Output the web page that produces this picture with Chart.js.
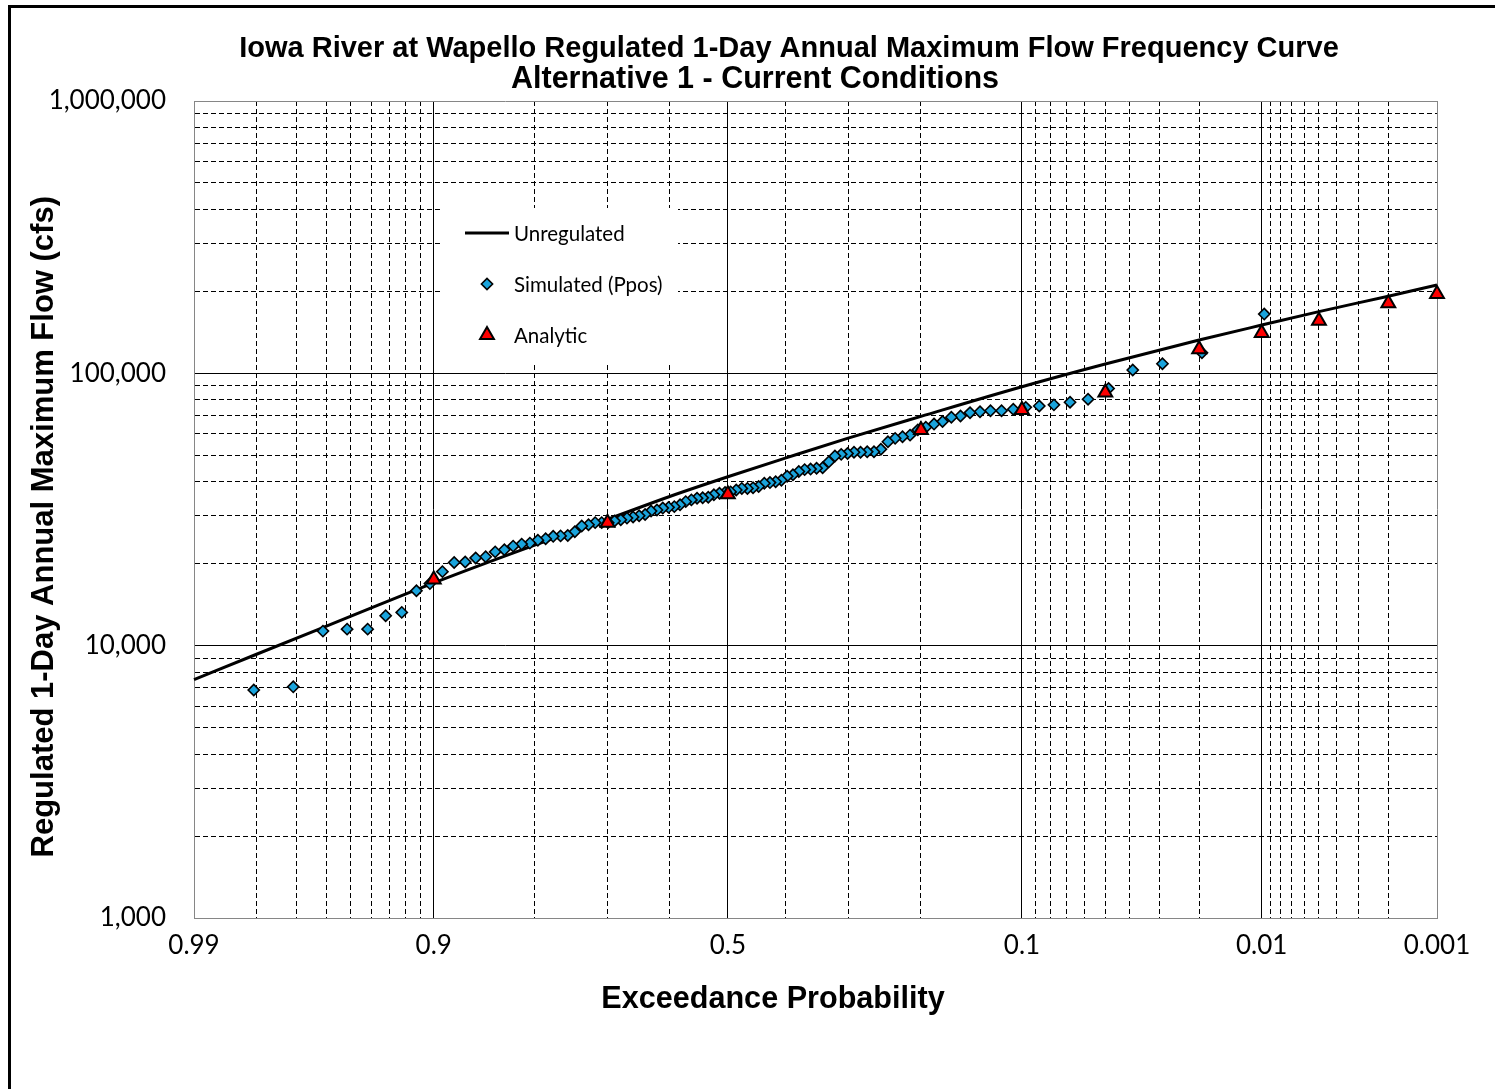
<!DOCTYPE html>
<html>
<head>
<meta charset="utf-8">
<title>Iowa River at Wapello Regulated 1-Day Annual Maximum Flow Frequency Curve</title>
<script src="https://cdn.jsdelivr.net/npm/chart.js@4.4.1/dist/chart.umd.min.js"></script>
<style>
  html, body { margin: 0; padding: 0; background: #ffffff; }
  #chart-box { position: relative; width: 1495px; height: 1089px; }
  #chart { display: block; }
</style>
</head>
<body>
<div id="chart-box"><canvas id="chart" width="1495" height="1089"></canvas></div>
<script>
// ---------------- text ----------------
const titleLine1 = 'Iowa River at Wapello Regulated 1-Day Annual Maximum Flow Frequency Curve';
const titleLine2 = 'Alternative 1 - Current Conditions';
const yAxisTitle = 'Regulated 1-Day Annual Maximum Flow (cfs)';
const xAxisTitle = 'Exceedance Probability';
const seriesNames = ['Unregulated', 'Simulated (Ppos)', 'Analytic'];

// ---------------- axes ----------------
const xLabelProbs = [0.99, 0.9, 0.5, 0.1, 0.01, 0.001];
const xSolidProbs = [0.9, 0.5, 0.1, 0.01];
const xGridProbs = [0.99, 0.98, 0.97, 0.96, 0.95, 0.94, 0.93, 0.92, 0.91, 0.9,
  0.8, 0.7, 0.6, 0.5, 0.4, 0.3, 0.2, 0.1,
  0.09, 0.08, 0.07, 0.06, 0.05, 0.04, 0.03, 0.02, 0.01,
  0.009, 0.008, 0.007, 0.006, 0.005, 0.004, 0.003, 0.002, 0.001];
const yTickValues = [1000, 2000, 3000, 4000, 5000, 6000, 7000, 8000, 9000,
  10000, 20000, 30000, 40000, 50000, 60000, 70000, 80000, 90000,
  100000, 200000, 300000, 400000, 500000, 600000, 700000, 800000, 900000, 1000000];
const yLabelValues = [1000, 10000, 100000, 1000000];

// ---------------- data ----------------
// Unregulated frequency curve (exceedance probability, flow cfs)
const unregProbs = [0.99, 0.98, 0.95, 0.9, 0.8, 0.7, 0.6, 0.5, 0.4, 0.3, 0.2, 0.1, 0.05, 0.02, 0.01, 0.005, 0.002, 0.001];
const unregFlow  = [7500, 9300, 12800, 17000, 23400, 29100, 35300, 41700, 48900, 57800, 69500, 89300, 108200, 132500, 150400, 168500, 192000, 211000];

// Analytic regulated curve
const analyticProbs = [0.9, 0.7, 0.5, 0.2, 0.1, 0.05, 0.02, 0.01, 0.005, 0.002, 0.001];
const analyticFlow  = [17500, 28300, 36000, 61900, 73300, 85000, 122500, 140600, 156000, 180700, 195500];

// Simulated annual maxima, ranked largest first; Weibull plotting position rank/(n+1)
const simRecordLength = 102;
const simFlow = [
  165000, 119000, 108400, 102800, 87900, 80300, 78300, 76600, 75900, 75000,
  73800, 72900, 72900, 72300, 71700, 69700, 69000, 66500, 65100, 63400,
  62000, 59300, 58500, 57700, 56100, 52600, 51500, 51500, 51300, 51300,
  50800, 50400, 49700, 47300, 45000, 44800, 44500, 44300, 43600, 42400,
  41900, 40500, 40000, 39700, 39500, 38400, 38000, 37800, 37800, 37300,
  36700, 36500, 36300, 35800, 35100, 34900, 34800, 34300, 33800, 32900,
  32400, 32200, 32000, 31500, 31200, 30300, 30000, 29700, 29400, 29000,
  28700, 28300, 28300, 28300, 27800, 27500, 26200, 25400, 25300, 25200,
  24700, 24400, 23800, 23600, 23200, 22500, 22100, 21200, 21000, 20300,
  20200, 18700, 16900, 15900, 13250, 12880, 11500, 11500, 11310, 7060,
  6870
];
const simProbs = simFlow.map((_, i) => (i + 1) / (simRecordLength + 1));

// ---------------- normal probability scale ----------------
function normInv(p) {
  const a = [-3.969683028665376e+01, 2.209460984245205e+02, -2.759285104469687e+02, 1.383577518672690e+02, -3.066479806614716e+01, 2.506628277459239e+00];
  const b = [-5.447609879822406e+01, 1.615858368580409e+02, -1.556989798598866e+02, 6.680131188771972e+01, -1.328068155288572e+01];
  const c = [-7.784894002430293e-03, -3.223964580411365e-01, -2.400758277161838e+00, -2.549671669981776e+00, 4.374664141464968e+00, 2.938163982698783e+00];
  const d = [7.784695709041462e-03, 3.224671290700398e-01, 2.445134137142996e+00, 3.754408661907416e+00];
  const pl = 0.02425, ph = 1 - pl;
  let q, r;
  if (p < pl) {
    q = Math.sqrt(-2 * Math.log(p));
    return (((((c[0]*q+c[1])*q+c[2])*q+c[3])*q+c[4])*q+c[5]) / ((((d[0]*q+d[1])*q+d[2])*q+d[3])*q+1);
  }
  if (p <= ph) {
    q = p - 0.5; r = q * q;
    return (((((a[0]*r+a[1])*r+a[2])*r+a[3])*r+a[4])*r+a[5])*q / (((((b[0]*r+b[1])*r+b[2])*r+b[3])*r+b[4])*r+1);
  }
  q = Math.sqrt(-2 * Math.log(1 - p));
  return -(((((c[0]*q+c[1])*q+c[2])*q+c[3])*q+c[4])*q+c[5]) / ((((d[0]*q+d[1])*q+d[2])*q+d[3])*q+1);
}
const exceedToZ = p => normInv(1 - p);

class ProbabilityScale extends Chart.LinearScale {
  determineDataLimits() {
    this.min = exceedToZ(this.options.probLeft);
    this.max = exceedToZ(this.options.probRight);
  }
  buildTicks() {
    return this.options.gridProbs.map(p => ({ value: p }));
  }
  getPixelForValue(value) {
    if (value === null || value === undefined) return NaN;
    return this.getPixelForDecimal((exceedToZ(value) - this._startValue) / this._valueRange);
  }
  getValueForPixel(pixel) {
    const z = this._startValue + this.getDecimalForPixel(pixel) * this._valueRange;
    return 1 - 0.5 * (1 + Math.tanh(z * 0.7978845608 * (1 + 0.044715 * z * z)));
  }
}
ProbabilityScale.id = 'probability';
Chart.register(ProbabilityScale);

// ---------------- plugins ----------------
const pageFrame = {
  id: 'pageFrame',
  beforeDraw(chart) {
    const ctx = chart.ctx;
    ctx.save();
    ctx.fillStyle = '#ffffff';
    ctx.fillRect(0, 0, chart.width, chart.height);
    ctx.strokeStyle = '#000000';
    ctx.lineWidth = 3;
    ctx.beginPath();
    ctx.moveTo(9.5, chart.height);
    ctx.lineTo(9.5, 6.5);
    ctx.lineTo(chart.width, 6.5);
    ctx.stroke();
    ctx.restore();
  }
};

const titlePlacement = {
  id: 'titlePlacement',
  afterLayout(chart, args, opts) {
    chart.boxes.forEach(b => {
      if (!b.options || typeof b.options.text !== 'string') return;
      let center = null;
      if (b.options.text === titleLine1) center = opts.line1Center;
      if (b.options.text === titleLine2) center = opts.line2Center;
      if (center === null) return;
      const w = b.right - b.left;
      b.left = center - w / 2;
      b.right = center + w / 2;
    });
  }
};

const insetLegend = {
  id: 'insetLegend',
  afterDatasetsDraw(chart, args, o) {
    const ctx = chart.ctx;
    const area = chart.chartArea;
    const bx = area.left + o.left, by = area.top + o.top;
    ctx.save();
    ctx.fillStyle = '#ffffff';
    ctx.fillRect(bx, by, o.width, o.height);
    ctx.font = o.font;
    ctx.textBaseline = 'middle';
    ctx.textAlign = 'left';
    chart.data.datasets.forEach((ds, i) => {
      const cy = by + o.firstRow + i * o.rowGap;
      const cx = bx + o.symbolX;
      if (ds.showLine) {
        ctx.strokeStyle = ds.borderColor;
        ctx.lineWidth = ds.borderWidth;
        ctx.beginPath();
        ctx.moveTo(cx - o.lineHalf, cy);
        ctx.lineTo(cx + o.lineHalf, cy);
        ctx.stroke();
      } else {
        ctx.fillStyle = ds.pointBackgroundColor;
        ctx.strokeStyle = ds.pointBorderColor;
        ctx.lineWidth = ds.pointBorderWidth;
        Chart.helpers.drawPoint(ctx, { pointStyle: ds.pointStyle, radius: ds.pointRadius, borderWidth: ds.pointBorderWidth, rotation: 0 }, cx, cy);
      }
      ctx.fillStyle = '#000000';
      ctx.fillText(ds.label, bx + o.textX, cy + 1);
    });
    ctx.restore();
  }
};

// ---------------- chart ----------------
const tickFont = { family: 'Lato, "Open Sans", sans-serif', size: 26 };
const boldFont = (size) => ({ family: '"Liberation Sans", Arial, sans-serif', size: size, weight: 'bold', lineHeight: '30px' });
const frameGray = '#868686';

new Chart(document.getElementById('chart'), {
  type: 'scatter',
  data: {
    datasets: [
      {
        label: seriesNames[0],
        type: 'line',
        data: unregProbs.map((p, i) => ({ x: p, y: unregFlow[i] })),
        showLine: true,
        borderColor: '#000000',
        borderWidth: 3,
        pointRadius: 0,
        cubicInterpolationMode: 'monotone',
        clip: false,
        order: 3
      },
      {
        label: seriesNames[1],
        data: simProbs.map((p, i) => ({ x: p, y: simFlow[i] })),
        showLine: false,
        pointStyle: 'rectRot',
        pointRadius: 5.6,
        pointBackgroundColor: '#1aa4dc',
        pointBorderColor: '#000000',
        pointBorderWidth: 1.6,
        clip: false,
        order: 2
      },
      {
        label: seriesNames[2],
        data: analyticProbs.map((p, i) => ({ x: p, y: analyticFlow[i] })),
        showLine: false,
        pointStyle: 'triangle',
        pointRadius: 8,
        pointBackgroundColor: '#ff0000',
        pointBorderColor: '#000000',
        pointBorderWidth: 2,
        clip: false,
        order: 1
      }
    ]
  },
  options: {
    responsive: false,
    animation: false,
    events: [],
    layout: { padding: { left: 0, right: 58, top: 0, bottom: 0 } },
    plugins: {
      legend: { display: false },
      tooltip: { enabled: false },
      title: {
        display: true, text: titleLine1, color: '#000000',
        font: boldFont(29), padding: { top: 34, bottom: 0 }
      },
      subtitle: {
        display: true, text: titleLine2, color: '#000000',
        font: boldFont(30.5), padding: { top: 1, bottom: 6 }
      },
      titlePlacement: { line1Center: 789, line2Center: 755 },
      insetLegend: {
        left: 249, top: 107, width: 235, height: 154,
        symbolX: 44, textX: 71, firstRow: 25, rowGap: 51, lineHalf: 22,
        font: '20.5px Lato, "Open Sans", sans-serif'
      }
    },
    scales: {
      x: {
        type: 'probability',
        position: 'bottom',
        probLeft: 0.99,
        probRight: 0.001,
        gridProbs: xGridProbs,
        afterFit: (s) => { s.height = 171; },
        grid: {
          drawTicks: false,
          lineWidth: 1,
          color: (c) => {
            const p = c.tick ? c.tick.value : null;
            if (p === 0.99 || p === 0.001) return frameGray;
            return '#000000';
          }
        },
        border: {
          display: true, color: frameGray, width: 1,
          dash: (c) => {
            const p = c.tick ? c.tick.value : null;
            if (p === null || p === 0.99 || p === 0.001 || xSolidProbs.includes(p)) return [];
            return [5, 3];
          }
        },
        ticks: {
          autoSkip: false, maxRotation: 0, minRotation: 0, padding: 12,
          color: '#000000', font: tickFont,
          callback: (v) => xLabelProbs.includes(v) ? String(v) : ''
        },
        title: {
          display: true, text: xAxisTitle + '          ', color: '#000000',
          font: boldFont(30.6), padding: { top: 0, bottom: 74 }
        }
      },
      y: {
        type: 'logarithmic',
        position: 'left',
        min: 1000,
        max: 1000000,
        afterBuildTicks: (s) => { s.ticks = yTickValues.map(v => ({ value: v })); },
        afterFit: (s) => { s.width = 194; },
        grid: {
          drawTicks: false,
          lineWidth: 1,
          color: (c) => {
            const v = c.tick ? c.tick.value : null;
            if (v === 1000 || v === 1000000) return frameGray;
            return '#000000';
          }
        },
        border: {
          display: true, color: frameGray, width: 1,
          dash: (c) => {
            const v = c.tick ? c.tick.value : null;
            if (v === null || yLabelValues.includes(v)) return [];
            return [5, 3];
          }
        },
        ticks: {
          autoSkip: false, padding: 28, color: '#000000', font: tickFont,
          callback: (v) => yLabelValues.includes(v) ? v.toLocaleString('en-US') : ''
        },
        title: {
          display: true, text: yAxisTitle + '    ', color: '#000000',
          font: boldFont(31), padding: { top: 29, bottom: 0 }
        }
      }
    }
  },
  plugins: [pageFrame, titlePlacement, insetLegend]
});
</script>
</body>
</html>
